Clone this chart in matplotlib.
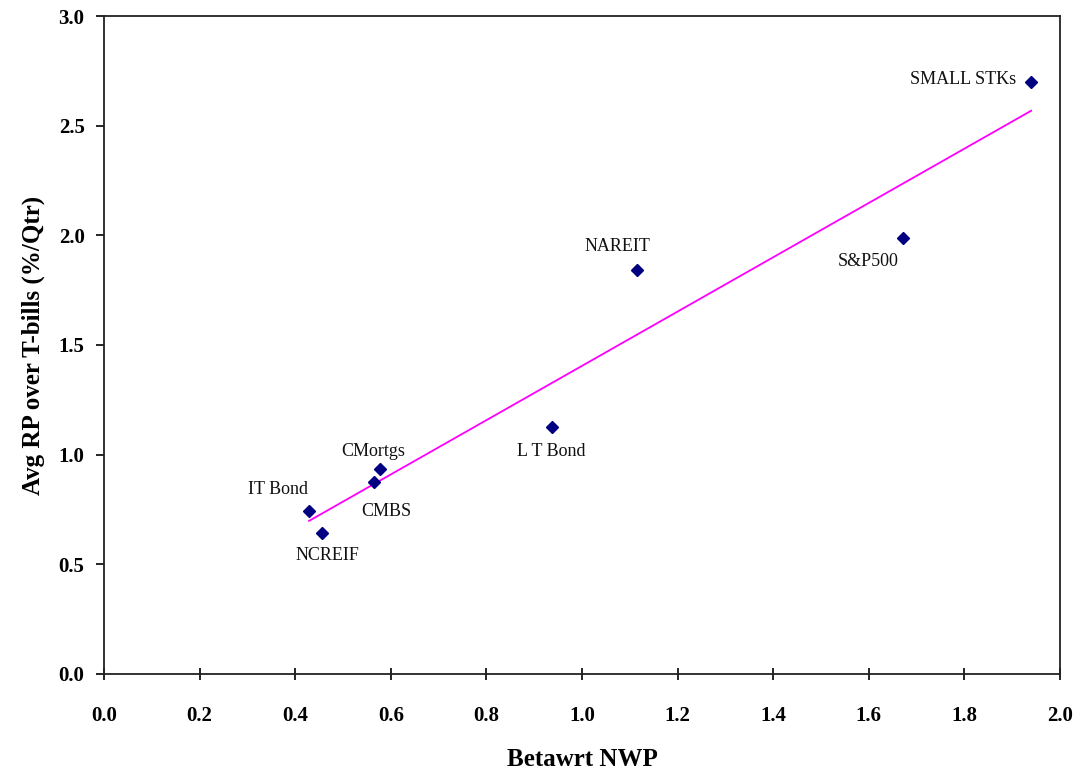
import numpy as np
import matplotlib
matplotlib.use('Agg')
import matplotlib.pyplot as plt


# =====================================
# Data
# =====================================
names = ['SMALL STKs', 'S&P500', 'NAREIT', 'L T Bond',
         'CMortgs', 'CMBS', 'IT Bond', 'NCREIF']
beta = [1.94, 1.672, 1.115, 0.937, 0.577, 0.565, 0.429, 0.457]
avg_rp = [2.70, 1.99, 1.842, 1.126, 0.935, 0.877, 0.743, 0.644]

# label offsets (pixels) and alignment for each point
label_offsets = {'SMALL STKs': (-15, 2, 'right'),
                 'S&P500': (-35, -24, 'center'),
                 'NAREIT': (-19, 23, 'center'),
                 'L T Bond': (-1, -24, 'center'),
                 'CMortgs': (-7, 17, 'center'),
                 'CMBS': (12, -30, 'center'),
                 'IT Bond': (-31, 22, 'center'),
                 'NCREIF': (5, -23, 'center')}


def main():
    plt.rcParams['font.family'] = 'Liberation Serif'

    fig = plt.figure(figsize=(10.76, 7.70), dpi=100)
    ax = fig.add_axes([0.0967, 0.1247, 0.8883, 0.8545])

    # trend line over the data range
    slope, intercept = np.polyfit(beta, avg_rp, 1)
    xfit = np.array([min(beta), max(beta)])
    ax.plot(xfit, slope*xfit + intercept, color='#ff00ff', lw=1.3, zorder=2)

    ax.plot(beta, avg_rp, 'D', color='#000080', markersize=6,
            linestyle='none', zorder=3)

    for name, x, y in zip(names, beta, avg_rp):
        dx, dy, ha = label_offsets[name]
        ax.annotate(name, (x, y), xytext=(dx, dy), textcoords='offset pixels',
                    ha=ha, va='center', fontsize=13, color='#111111')

    ax.set_xlim(0, 2.0)
    ax.set_ylim(0, 3.0)
    ax.set_xticks(np.arange(0, 2.01, 0.2))
    ax.set_yticks(np.arange(0, 3.01, 0.5))
    ax.set_xticklabels([f'{v:.1f}' for v in np.arange(0, 2.01, 0.2)])
    ax.set_yticklabels([f'{v:.1f}' for v in np.arange(0, 3.01, 0.5)])

    ax.tick_params(axis='x', direction='inout', length=8, width=1.2,
                   labelsize=15, pad=19)
    ax.tick_params(axis='y', direction='out', length=6, width=1.2,
                   labelsize=15, pad=8)
    for lab in ax.get_xticklabels() + ax.get_yticklabels():
        lab.set_fontweight('bold')

    for spine in ax.spines.values():
        spine.set_linewidth(1.3)
        spine.set_color('#222222')

    ax.set_xlabel('Betawrt NWP', fontsize=18, fontweight='bold', labelpad=16)
    ax.set_ylabel('Avg RP over T-bills (%/Qtr)', fontsize=18,
                  fontweight='bold', labelpad=10)

    fig.savefig('out.png', dpi=100)


if __name__ == "__main__":
    main()
